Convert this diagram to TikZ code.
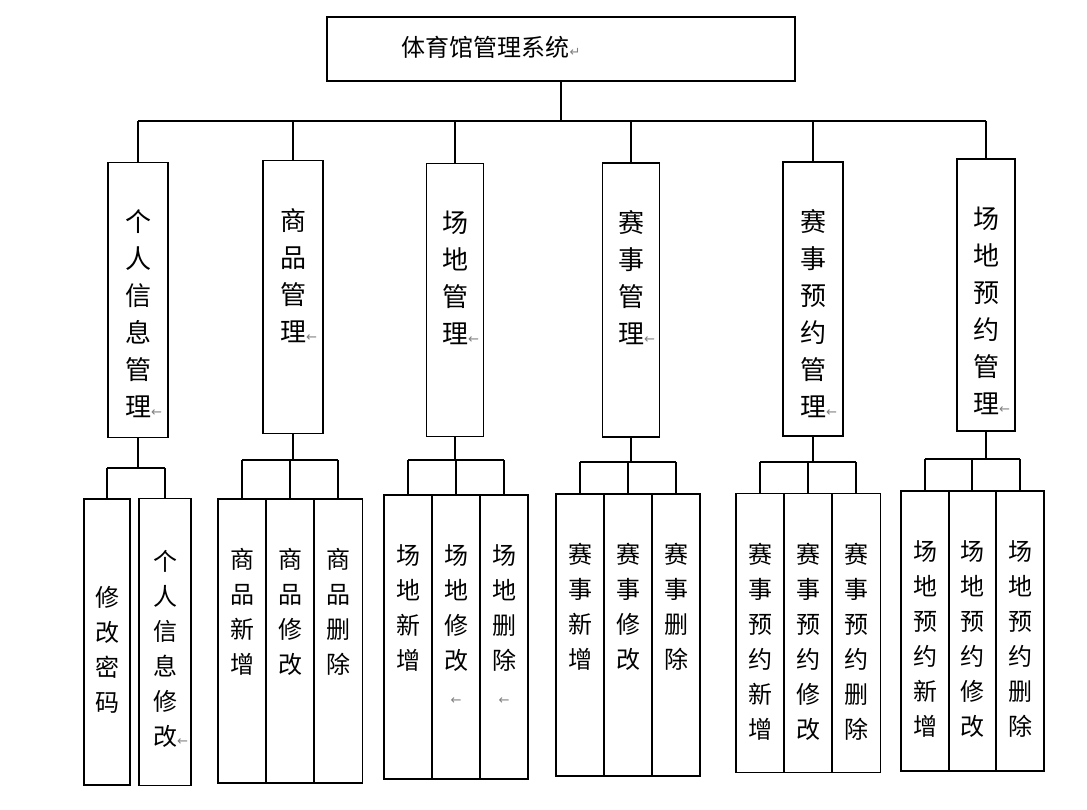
\documentclass[tikz,border=0pt]{standalone}
\usepackage{fontspec}
\setmainfont{Noto Sans CJK SC}
\newfontfamily\symfont{DejaVu Sans}
\usetikzlibrary{positioning}
\newcommand{\rmk}[1]{\rlap{\textcolor{gray}{\symfont\fontsize{13}{13}\selectfont #1}}}
\tikzset{
  box/.style={draw, line width=1.2pt, inner sep=0pt},
  big/.style={align=center, font=\fontsize{26}{37}\selectfont, inner sep=0pt, anchor=north},
  small/.style={align=center, font=\fontsize{24}{35}\selectfont, inner sep=0pt, anchor=north},
  link/.style={line width=1.2pt}
}
\begin{document}
\begin{tikzpicture}[x=1pt, y=-1pt]
\useasboundingbox (0,0) rectangle (1087,810);
% top
\node[box, minimum width=468, minimum height=64] (top) at (561,49) {};
\node[font=\fontsize{24}{24}\selectfont, anchor=west] (topt) at (398,47) {体育馆管理系统\rmk{↵}};
\coordinate (busA) at (0,121);
% second level
\node[box, minimum width=60, minimum height=275] (p1) at (138,300) {};
\node[box, minimum width=60, minimum height=273] (p2) at (293,297) {};
\node[box, minimum width=57, minimum height=273] (p3) at (455,300) {};
\node[box, minimum width=57, minimum height=274] (p4) at (631,300) {};
\node[box, minimum width=60, minimum height=274] (p5) at (813,299) {};
\node[box, minimum width=58, minimum height=272] (p6) at (986,295) {};
\node[big, below=48pt of p1.north] (t1) {个\\人\\信\\息\\管\\理\rmk{←}};
\node[big, below=48pt of p2.north] (t2) {商\\品\\管\\理\rmk{←}};
\node[big, below=48pt of p3.north] (t3) {场\\地\\管\\理\rmk{←}};
\node[big, below=48pt of p4.north] (t4) {赛\\事\\管\\理\rmk{←}};
\node[big, below=48pt of p5.north] (t5) {赛\\事\\预\\约\\管\\理\rmk{←}};
\node[big, below=48pt of p6.north] (t6) {场\\地\\预\\约\\管\\理\rmk{←}};
\draw[link] (top.south) -- (top.south |- busA);
\draw[link] (p1.north |- busA) -- (p6.north |- busA);
\draw[link] (p1.north) -- (p1.north |- busA);
\draw[link] (p2.north) -- (p2.north |- busA);
\draw[link] (p3.north) -- (p3.north |- busA);
\draw[link] (p4.north) -- (p4.north |- busA);
\draw[link] (p5.north) -- (p5.north |- busA);
\draw[link] (p6.north) -- (p6.north |- busA);
% third level, group 1
\coordinate (bus1) at (0,468);
\node[box, minimum width=46, minimum height=286] (a1) at (107,642) {};
\node[box, minimum width=52, minimum height=287] (a2) at (165,642) {};
\node[small, below=88pt of a1.north] {修\\改\\密\\码};
\node[small, below=52pt of a2.north] {个\\人\\信\\息\\修\\改\rmk{←}};
\draw[link] (p1.south) -- (p1.south |- bus1);
\draw[link] (a1.north |- bus1) -- (a2.north |- bus1);
\draw[link] (a1.north) -- (a1.north |- bus1);
\draw[link] (a2.north) -- (a2.north |- bus1);
% group 2
\coordinate (bus2) at (0,460);
\node[box, minimum width=48, minimum height=284] (b1) at (242,641) {};
\node[box, minimum width=48, minimum height=284] (b2) at (290,641) {};
\node[box, minimum width=49, minimum height=284] (b3) at (338,641) {};
\node[small, below=50pt of b1.north] {商\\品\\新\\增};
\node[small, below=50pt of b2.north] {商\\品\\修\\改};
\node[small, below=50pt of b3.north] {商\\品\\删\\除};
\draw[link] (p2.south) -- (p2.south |- bus2);
\draw[link] (b1.north |- bus2) -- (b3.north |- bus2);
\draw[link] (b1.north) -- (b1.north |- bus2);
\draw[link] (b2.north) -- (b2.north |- bus2);
\draw[link] (b3.north) -- (b3.north |- bus2);
% group 3
\coordinate (bus3) at (0,460);
\node[box, minimum width=48, minimum height=284] (c1) at (408,637) {};
\node[box, minimum width=48, minimum height=284] (c2) at (456,637) {};
\node[box, minimum width=48, minimum height=284] (c3) at (504,637) {};
\node[small, below=50pt of c1.north] {场\\地\\新\\增};
\node[small, below=50pt of c2.north] {场\\地\\修\\改\\{\symfont\color{gray}\fontsize{13}{13}\selectfont ←}};
\node[small, below=50pt of c3.north] {场\\地\\删\\除\\{\symfont\color{gray}\fontsize{13}{13}\selectfont ←}};
\draw[link] (p3.south) -- (p3.south |- bus3);
\draw[link] (c1.north |- bus3) -- (c3.north |- bus3);
\draw[link] (c1.north) -- (c1.north |- bus3);
\draw[link] (c2.north) -- (c2.north |- bus3);
\draw[link] (c3.north) -- (c3.north |- bus3);
% group 4
\coordinate (bus4) at (0,462);
\node[box, minimum width=48, minimum height=282] (d1) at (580,635) {};
\node[box, minimum width=48, minimum height=282] (d2) at (628,635) {};
\node[box, minimum width=48, minimum height=282] (d3) at (676,635) {};
\node[small, below=50pt of d1.north] {赛\\事\\新\\增};
\node[small, below=50pt of d2.north] {赛\\事\\修\\改};
\node[small, below=50pt of d3.north] {赛\\事\\删\\除};
\draw[link] (p4.south) -- (p4.south |- bus4);
\draw[link] (d1.north |- bus4) -- (d3.north |- bus4);
\draw[link] (d1.north) -- (d1.north |- bus4);
\draw[link] (d2.north) -- (d2.north |- bus4);
\draw[link] (d3.north) -- (d3.north |- bus4);
% group 5
\coordinate (bus5) at (0,462);
\node[box, minimum width=48, minimum height=279] (e1) at (760,633) {};
\node[box, minimum width=48, minimum height=279] (e2) at (808,633) {};
\node[box, minimum width=49, minimum height=279] (e3) at (856,633) {};
\node[small, below=50pt of e1.north] {赛\\事\\预\\约\\新\\增};
\node[small, below=50pt of e2.north] {赛\\事\\预\\约\\修\\改};
\node[small, below=50pt of e3.north] {赛\\事\\预\\约\\删\\除};
\draw[link] (p5.south) -- (p5.south |- bus5);
\draw[link] (e1.north |- bus5) -- (e3.north |- bus5);
\draw[link] (e1.north) -- (e1.north |- bus5);
\draw[link] (e2.north) -- (e2.north |- bus5);
\draw[link] (e3.north) -- (e3.north |- bus5);
% group 6
\coordinate (bus6) at (0,459);
\node[box, minimum width=48, minimum height=280] (f1) at (925,631) {};
\node[box, minimum width=47, minimum height=280] (f2) at (972,631) {};
\node[box, minimum width=48, minimum height=280] (f3) at (1020,631) {};
\node[small, below=50pt of f1.north] {场\\地\\预\\约\\新\\增};
\node[small, below=50pt of f2.north] {场\\地\\预\\约\\修\\改};
\node[small, below=50pt of f3.north] {场\\地\\预\\约\\删\\除};
\draw[link] (p6.south) -- (p6.south |- bus6);
\draw[link] (f1.north |- bus6) -- (f3.north |- bus6);
\draw[link] (f1.north) -- (f1.north |- bus6);
\draw[link] (f2.north) -- (f2.north |- bus6);
\draw[link] (f3.north) -- (f3.north |- bus6);
\end{tikzpicture}
\end{document}
